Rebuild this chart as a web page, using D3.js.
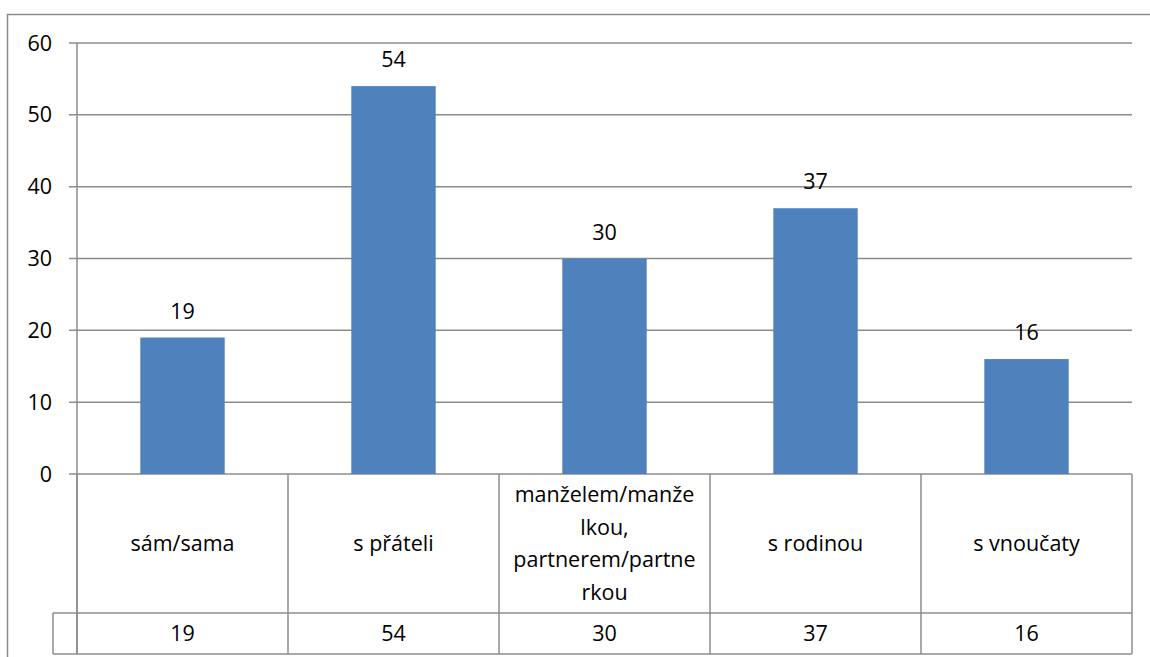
<!DOCTYPE html>
<html>
<head>
<meta charset="utf-8">
<script src="https://cdn.jsdelivr.net/npm/d3@7"></script>
<style>
 body{margin:0;background:#fff;}
 text{font-family:"Open Sans","Noto Sans",sans-serif;fill:#000;}
</style>
</head>
<body>
<div id="chart"></div>
<script>
// data
var categories = ["sám/sama", "s přáteli", "manželem/manželkou, partnerem/partnerkou", "s rodinou", "s vnoučaty"];
var labelLines = [["sám/sama"], ["s přáteli"], ["manželem/manže", "lkou,", "partnerem/partne", "rkou"], ["s rodinou"], ["s vnoučaty"]];
var values = [19, 54, 30, 37, 16];
var yTicks = [0, 10, 20, 30, 40, 50, 60];

var width = 1150, height = 657;
var plotLeft = 77, plotRight = 1132, plotTop = 43, zeroY = 474;
var rowSplit = 613, rowEnd = 654, tableLeft = 53;
var lineCol = "#8c8c8c";
var fs = '21.5px';

var svg = d3.select('#chart').append('svg')
  .attr('width', width).attr('height', height);

// outer chart border (right/bottom are off the picture)
svg.append('path')
  .attr('d', 'M7.5,' + height + 'V14.5H' + width)
  .attr('fill', 'none').attr('stroke', lineCol).attr('stroke-width', 1.5);

var x = d3.scaleBand().domain(categories).range([plotLeft, plotRight])
  .paddingInner(0.6).paddingOuter(0.3);
var y = d3.scaleLinear().domain([0, 60]).range([zeroY, plotTop]);

// gridlines + ticks
svg.append('g').selectAll('line').data(yTicks).enter().append('line')
  .attr('x1', plotLeft - 8).attr('x2', plotRight)
  .attr('y1', function(d){ return y(d); }).attr('y2', function(d){ return y(d); })
  .attr('stroke', lineCol).attr('stroke-width', 1.5);

svg.append('g').selectAll('text').data(yTicks).enter().append('text')
  .attr('x', 52).attr('y', function(d){ return y(d); })
  .attr('dy', '0.35em').attr('text-anchor', 'end')
  .style('font-size', fs)
  .text(function(d){ return d; });

// y axis line
svg.append('line').attr('x1', plotLeft).attr('x2', plotLeft).attr('y1', plotTop).attr('y2', rowEnd)
  .attr('stroke', lineCol).attr('stroke-width', 1.5);

// bars
svg.append('g').selectAll('rect').data(values).enter().append('rect')
  .attr('x', function(d, i){ return x(categories[i]); })
  .attr('width', x.bandwidth())
  .attr('y', function(d){ return y(d); })
  .attr('height', function(d){ return zeroY - y(d); })
  .attr('fill', '#4f81bd');

// value labels
svg.append('g').selectAll('text').data(values).enter().append('text')
  .attr('x', function(d, i){ return x(categories[i]) + x.bandwidth() / 2; })
  .attr('y', function(d){ return y(d) - 19; })
  .attr('text-anchor', 'middle')
  .style('font-size', fs)
  .text(function(d){ return d; });

// data table
var step = x.step();
var colEdges = categories.map(function(c){ return x(c) - x.paddingOuter() * step; });
colEdges.push(plotRight);

var tbl = svg.append('g');
tbl.selectAll('line.v').data(colEdges).enter().append('line')
  .attr('x1', function(d){ return d; }).attr('x2', function(d){ return d; })
  .attr('y1', zeroY).attr('y2', rowEnd)
  .attr('stroke', lineCol).attr('stroke-width', 1.5);
tbl.append('line').attr('x1', tableLeft).attr('x2', tableLeft).attr('y1', rowSplit).attr('y2', rowEnd)
  .attr('stroke', lineCol).attr('stroke-width', 1.5);
[rowSplit, rowEnd].forEach(function(yy){
  tbl.append('line').attr('x1', tableLeft).attr('x2', plotRight).attr('y1', yy).attr('y2', yy)
    .attr('stroke', lineCol).attr('stroke-width', 1.5);
});

var lh = 32.5;
labelLines.forEach(function(lines, i){
  var cx = x(categories[i]) + x.bandwidth() / 2;
  var cy = (zeroY + rowSplit) / 2;
  var t = tbl.append('text').attr('text-anchor', 'middle').style('font-size', fs);
  lines.forEach(function(l, j){
    t.append('tspan').attr('x', cx)
      .attr('y', cy + (j - (lines.length - 1) / 2) * lh)
      .attr('dy', '0.35em').text(l);
  });
});

tbl.selectAll('text.val').data(values).enter().append('text')
  .attr('x', function(d, i){ return x(categories[i]) + x.bandwidth() / 2; })
  .attr('y', (rowSplit + rowEnd) / 2).attr('dy', '0.35em')
  .attr('text-anchor', 'middle').style('font-size', fs)
  .text(function(d){ return d; });
</script>
</body>
</html>
